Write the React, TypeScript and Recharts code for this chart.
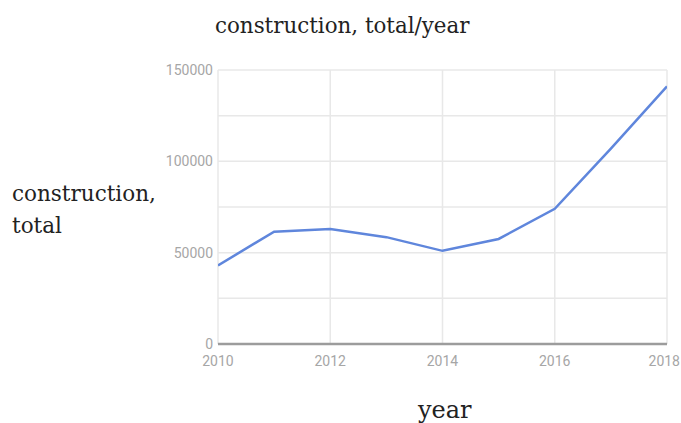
import React from "react";
import {
  LineChart,
  Line,
  XAxis,
  YAxis,
  CartesianGrid,
} from "recharts";

const years = [2010, 2011, 2012, 2013, 2014, 2015, 2016, 2017, 2018];
const construction = [43000, 61500, 63000, 58500, 51000, 57500, 74000, 107000, 141000];
const yearTicks = [2010, 2012, 2014, 2016, 2018];
const valueTicks = [0, 25000, 50000, 75000, 100000, 125000, 150000];
const labelledValues = [0, 50000, 100000, 150000];

const data = years.map((year, i) => ({ year, value: construction[i] }));

const serif = "'DejaVu Serif', 'Liberation Serif', serif";
const tickStyle = { fontSize: 14, fill: "#a6a6a6", fontFamily: "Roboto, sans-serif" };

// the last year label sits flush against the right edge, like the original
function YearTick(props: any) {
  const { x, y, payload } = props;
  const last = payload.value === yearTicks[yearTicks.length - 1];
  return (
    <text
      x={last ? x + 13 : x}
      y={y}
      dy="0.71em"
      textAnchor={last ? "end" : "middle"}
      {...tickStyle}
    >
      {payload.value}
    </text>
  );
}

export default function App() {
  return (
    <div style={{ position: "absolute", left: 0, top: 0, width: 681, height: 423, background: "#fff", overflow: "hidden" }}>
      <div style={{ position: "absolute", left: 215, top: 15, fontFamily: serif, fontSize: 21.4, lineHeight: 1, color: "#222", whiteSpace: "nowrap" }}>
        construction, total/year
      </div>
      <div style={{ position: "absolute", left: 12, top: 178, fontFamily: serif, fontSize: 21.5, lineHeight: "32px", color: "#222", whiteSpace: "nowrap" }}>
        construction,
        <br />
        total
      </div>
      <div style={{ position: "absolute", left: 418, top: 398, fontFamily: serif, fontSize: 24, lineHeight: 1, color: "#222" }}>
        year
      </div>
      <LineChart
        width={681}
        height={423}
        data={data}
        margin={{ top: 70, right: 14, bottom: 0, left: 0 }}
      >
        <CartesianGrid stroke="#e8e8e8" strokeWidth={1.5} verticalValues={yearTicks} horizontalValues={valueTicks} />
        <XAxis
          dataKey="year"
          type="number"
          domain={[2010, 2018]}
          ticks={yearTicks}
          tick={<YearTick />}
          tickLine={false}
          tickSize={0}
          axisLine={{ stroke: "#9c9c9c", strokeWidth: 2.5 }}
          tickMargin={12}
          height={79}
          interval={0}
          allowDataOverflow
        />
        <YAxis
          type="number"
          domain={[0, 150000]}
          ticks={valueTicks}
          tick={tickStyle}
          tickLine={false}
          tickSize={0}
          axisLine={false}
          tickMargin={5}
          width={218}
          interval={0}
          tickFormatter={(v: number) => (labelledValues.includes(v) ? String(v) : "")}
        />
        <Line
          dataKey="value"
          type="linear"
          stroke="#5f86dc"
          strokeWidth={2.5}
          dot={false}
          isAnimationActive={false}
        />
      </LineChart>
    </div>
  );
}
